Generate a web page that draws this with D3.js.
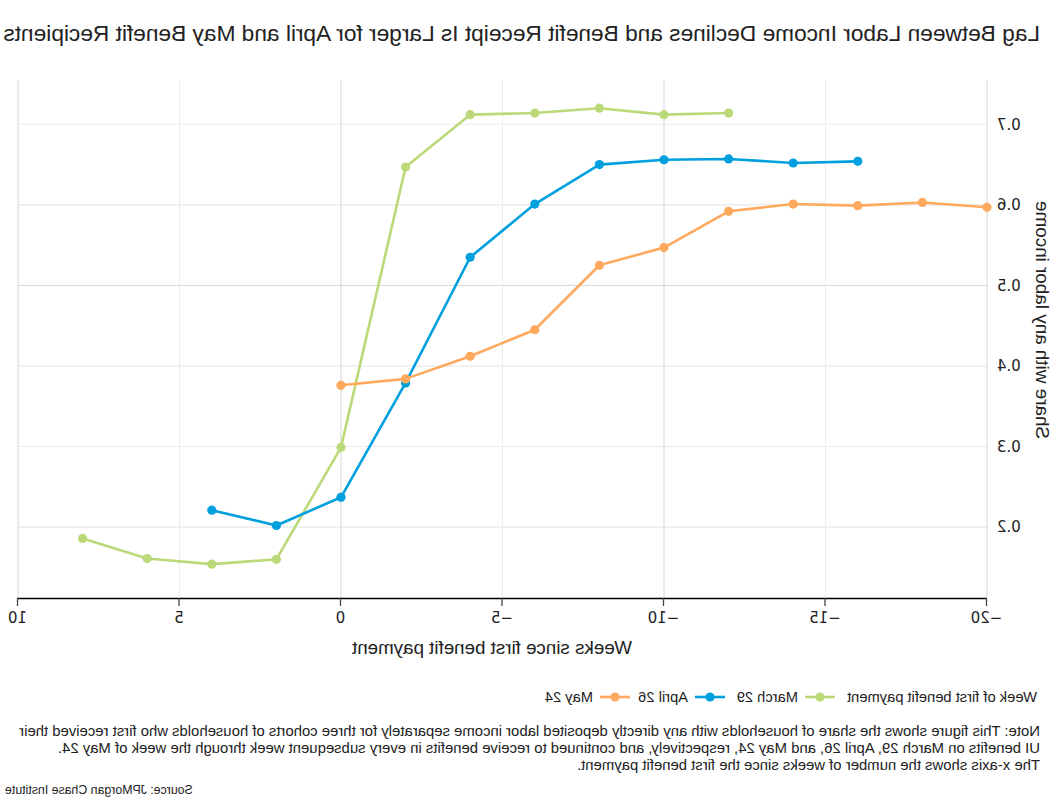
<!DOCTYPE html>
<html>
<head>
<meta charset="utf-8">
<script src="https://cdn.jsdelivr.net/npm/d3@7"></script>
<style>
  html, body { margin: 0; padding: 0; background: #fff; }
  svg { display: block; font-family: "Liberation Sans", Arial, sans-serif; }
</style>
</head>
<body>
<svg id="chart" width="1054" height="798"></svg>
<script>
// ---- data ----
const title = "Lag Between Labor Income Declines and Benefit Receipt Is Larger for April and May Benefit Recipients";
const xTitle = "Weeks since first benefit payment";
const yTitle = "Share with any labor income";
const legendTitle = "Week of first benefit payment";
const seriesNames = ["March 29", "April 26", "May 24"];
const seriesColors = ["#bcd97a", "#00a0de", "#ffa95e"];

const weeksMarch = [-12, -10, -8, -6, -4, -2, 0, 2, 4, 6, 8];
const valuesMarch = [0.714, 0.712, 0.720, 0.714, 0.712, 0.647, 0.299, 0.160, 0.154, 0.161, 0.186];

const weeksApril = [-16, -14, -12, -10, -8, -6, -4, -2, 0, 2, 4];
const valuesApril = [0.654, 0.652, 0.657, 0.656, 0.650, 0.601, 0.535, 0.379, 0.237, 0.202, 0.221];

const weeksMay = [-20, -18, -16, -14, -12, -10, -8, -6, -4, -2, 0];
const valuesMay = [0.597, 0.603, 0.599, 0.601, 0.592, 0.547, 0.525, 0.445, 0.412, 0.384, 0.376];

const xTicks = [-20, -15, -10, -5, 0, 5, 10];
const yTicks = [0.2, 0.3, 0.4, 0.5, 0.6, 0.7];

const noteLines = [
  "Note: This figure shows the share of households with any directly deposited labor income separately for three cohorts of households who first received their",
  "UI benefits on March 29, April 26, and May 24, respectively, and continued to receive benefits in every subsequent week through the week of May 24.",
  "The x-axis shows the number of weeks since the first benefit payment."
];
const sourceText = "Source: JPMorgan Chase Institute";

// ---- build ----
const W = 1054, H = 798;
const svg = d3.select("#chart");
// The reference is a horizontally mirrored rendering of the chart
const root = svg.append("g").attr("transform", `translate(${W},0) scale(-1,1)`);

// scale a text's font size so that it spans a given width
function fitWidth(sel, base, target) {
  sel.attr("font-size", base);
  const w = sel.node().getComputedTextLength();
  if (w > 0) sel.attr("font-size", (base * target / w).toFixed(2));
  return sel;
}

const pL = 67, pR = 1036, pT = 80, pB = 598;
const x = d3.scaleLinear().domain([-20, 10]).range([pL, pR]);
const y = d3.scaleLinear().domain([0.112, 0.755]).range([pB, pT]);

// gridlines
const gridH = root.append("g");
gridH.selectAll("line").data(yTicks).join("line")
  .attr("x1", pL).attr("x2", pR)
  .attr("y1", d => y(d)).attr("y2", d => y(d))
  .attr("stroke", d => Math.abs(d - 0.5) < 1e-9 ? "#d6d6d6" : (Math.round(d * 10) % 2 === 0 ? "#e3e3e3" : "#ececec"))
  .attr("stroke-width", 1);
const gridV = root.append("g");
gridV.selectAll("line").data(xTicks).join("line")
  .attr("x1", d => x(d)).attr("x2", d => x(d))
  .attr("y1", pT).attr("y2", pB)
  .attr("stroke", d => (d % 10 === 0) ? "#d4d4d4" : "#ececec")
  .attr("stroke-width", 1);

// x axis
const xAxis = root.append("g").attr("transform", `translate(0,${pB})`)
  .call(d3.axisBottom(x).tickValues(xTicks).tickSize(8).tickSizeOuter(0).tickPadding(6)
    .tickFormat(d => d < 0 ? "\u2212" + Math.abs(d) : String(d)));
xAxis.select(".domain").attr("stroke", "#000").attr("stroke-width", 1.3);
xAxis.selectAll(".tick line").attr("stroke", "#444").attr("stroke-width", 1.3);
xAxis.selectAll(".tick text").attr("font-size", 15).attr("fill", "#222")
  .attr("font-family", "'DejaVu Sans', sans-serif");

// y axis labels
const yAxis = root.append("g").attr("transform", `translate(${pL},0)`)
  .call(d3.axisLeft(y).tickValues(yTicks).tickSize(0).tickPadding(10).tickFormat(d3.format(".1f")));
yAxis.select(".domain").remove();
yAxis.selectAll(".tick text").attr("font-size", 15).attr("fill", "#222")
  .attr("font-family", "'DejaVu Sans', sans-serif");

// axis titles
fitWidth(root.append("text").attr("x", 562).attr("y", 654).attr("text-anchor", "middle")
  .attr("fill", "#222").text(xTitle), 17, 280);
fitWidth(root.append("text").attr("transform", `translate(18,320) rotate(-90)`).attr("text-anchor", "middle")
  .attr("fill", "#222").text(yTitle), 17, 238);

// title
fitWidth(root.append("text").attr("x", 14).attr("y", 41).attr("fill", "#222").text(title), 20.5, 1037);

// series
const series = [
  { name: seriesNames[0], color: seriesColors[0], pts: weeksMarch.map((w, i) => [w, valuesMarch[i]]) },
  { name: seriesNames[1], color: seriesColors[1], pts: weeksApril.map((w, i) => [w, valuesApril[i]]) },
  { name: seriesNames[2], color: seriesColors[2], pts: weeksMay.map((w, i) => [w, valuesMay[i]]) }
];
const line = d3.line().x(d => x(d[0])).y(d => y(d[1]));
series.forEach(s => {
  const g = root.append("g");
  g.append("path").datum(s.pts).attr("d", line).attr("fill", "none")
    .attr("stroke", s.color).attr("stroke-width", 2.6).attr("stroke-linejoin", "round");
  g.selectAll("circle").data(s.pts).join("circle")
    .attr("cx", d => x(d[0])).attr("cy", d => y(d[1])).attr("r", 4.6).attr("fill", s.color);
});

// legend
const ly = 697;
const leg = root.append("g");
const lt = fitWidth(leg.append("text").attr("x", 17).attr("y", ly + 5).attr("fill", "#222").text(legendTitle), 14, 190);
const legFont = lt.attr("font-size");
const legX = [219, 329, 424];
series.forEach((s, i) => {
  const gx = legX[i];
  leg.append("line").attr("x1", gx).attr("x2", gx + 30).attr("y1", ly).attr("y2", ly)
    .attr("stroke", s.color).attr("stroke-width", 2.6);
  leg.append("circle").attr("cx", gx + 15).attr("cy", ly).attr("r", 4.6).attr("fill", s.color);
  leg.append("text").attr("x", gx + 37).attr("y", ly + 5).attr("font-size", legFont).attr("fill", "#222").text(s.name);
});

// note
const noteG = root.append("g");
const n0 = fitWidth(noteG.append("text").attr("x", 14).attr("y", 736).attr("fill", "#222").text(noteLines[0]), 13, 1022);
const noteFont = n0.attr("font-size");
noteG.selectAll("text.rest").data(noteLines.slice(1)).join("text").attr("class", "rest")
  .attr("x", 14).attr("y", (d, i) => 736 + (i + 1) * 17).attr("font-size", noteFont).attr("fill", "#222").text(d => d);

// source
fitWidth(root.append("text").attr("x", 1049).attr("y", 794).attr("text-anchor", "end")
  .attr("fill", "#222").text(sourceText), 11, 188);
</script>
</body>
</html>
